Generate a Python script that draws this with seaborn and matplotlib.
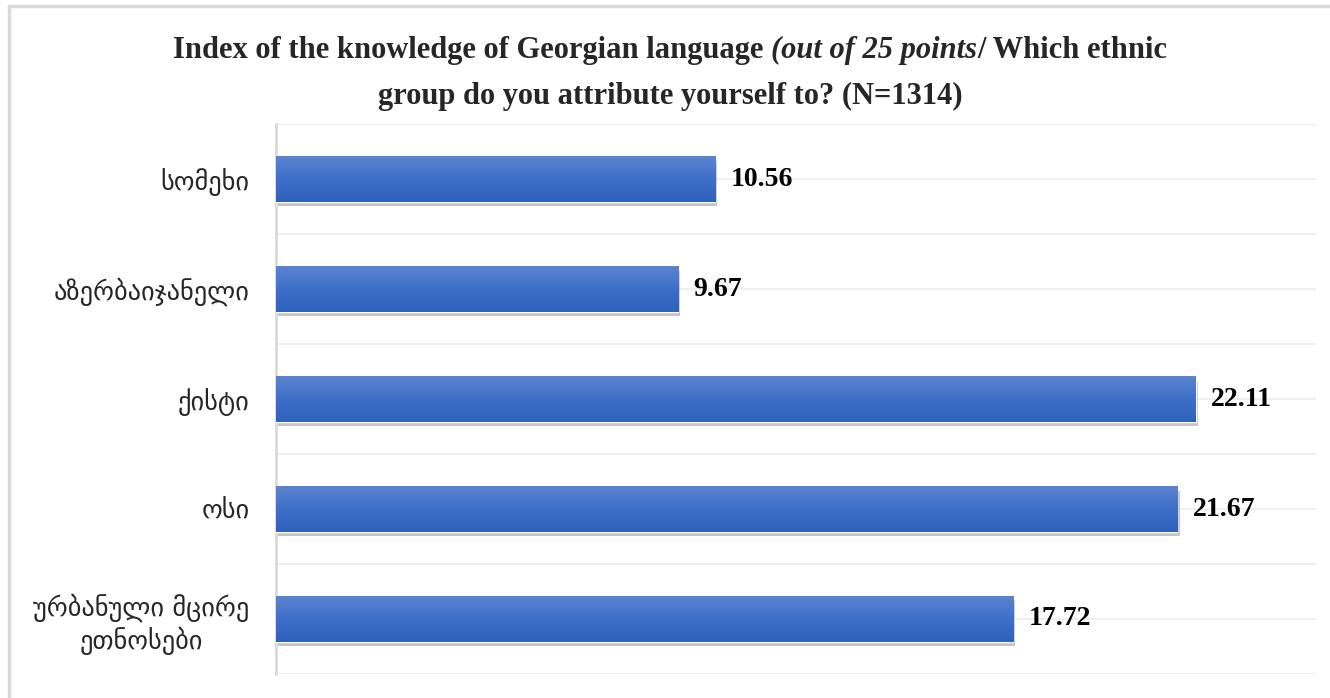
import numpy as np
import pandas as pd
import matplotlib
matplotlib.use('Agg')
import matplotlib.pyplot as plt
import matplotlib.patheffects as pe
from matplotlib.lines import Line2D
from matplotlib.colors import LinearSegmentedColormap
import seaborn as sns

# data
groups = ['სომეხი', 'აზერბაიჯანელი', 'ქისტი', 'ოსი', 'ურბანული მცირე\nეთნოსები']
scores = [10.56, 9.67, 22.11, 21.67, 17.72]
title_parts = [('Index of the knowledge of Georgian language ', 'normal'),
               ('(out of 25 points', 'italic'),
               ('/ Which ethnic', 'normal')]
title_line2 = 'group do you attribute yourself to? (N=1314)'

df = pd.DataFrame({'group': groups, 'score': scores})

sns.set_theme(style='white')
plt.rcParams['font.family'] = ['DejaVu Sans']

fig = plt.figure(figsize=(13.3, 6.98), dpi=100)
ax = fig.add_axes([0.2075, 0.0344, 0.782, 0.7879])

sns.barplot(data=df, x='score', y='group', ax=ax, color='#3d6ec8',
            width=0.41, saturation=1, zorder=3)

ax.set_xlim(0, 25)
ax.set_ylim(4.5, -0.5)

# gradient fill (light on top, darker below) + soft shadow
grad = LinearSegmentedColormap.from_list('g', ['#5c85d0', '#3e6fc9', '#2f62bc'])
for bar in ax.patches:
    x0, y0 = bar.get_x(), bar.get_y()
    w, h = bar.get_width(), bar.get_height()
    bar.set_path_effects([pe.SimplePatchShadow(offset=(1.5, -3), shadow_rgbFace='#6f6f6f', alpha=0.4),
                          pe.Normal()])
    img = ax.imshow(np.linspace(0, 1, 100).reshape(-1, 1), cmap=grad, aspect='auto',
                    extent=(x0, x0 + w, y0 + h, y0), origin='upper', zorder=4)
    img.set_clip_path(bar)
ax.set_xlim(0, 25)
ax.set_ylim(4.5, -0.5)

# value labels
for i, v in enumerate(scores):
    ax.annotate(f'{v:.2f}', (v, i), xytext=(11, 0), textcoords='offset points',
                va='center', ha='left', fontsize=20, family='Liberation Serif',
                weight='bold', color='black')

# grid lines every half category
ax.set_yticks(np.arange(-0.5, 5, 0.5), minor=True)
ax.grid(axis='y', which='both', color='#efefef', lw=1.5, zorder=0)
ax.grid(axis='x', visible=False)
ax.tick_params(axis='y', which='both', length=0, pad=19, labelsize=19)
ax.tick_params(axis='x', which='both', length=0, labelbottom=False)
ax.set_xlabel('')
ax.set_ylabel('')
for s in ['top', 'right', 'bottom']:
    ax.spines[s].set_visible(False)
ax.spines['left'].set_color('#d9d9d9')
ax.spines['left'].set_linewidth(2)
for lab in ax.get_yticklabels():
    lab.set_multialignment('center')

# title with italic part, centred manually
fig.canvas.draw()
r = fig.canvas.get_renderer()
W, H = fig.bbox.width, fig.bbox.height
pieces = []
for txt, st in title_parts:
    t = fig.text(0, 0, txt, fontsize=22, family='Liberation Serif', style=st,
                 weight='bold', ha='left', va='baseline')
    pieces.append(t)
widths = [t.get_window_extent(r).width for t in pieces]
x = 670 - sum(widths) / 2
for t, wd in zip(pieces, widths):
    t.set_position((x / W, (H - 58) / H))
    x += wd
fig.text(670 / W, (H - 104) / H, title_line2, fontsize=22, family='Liberation Serif',
         weight='bold', ha='center', va='baseline')

# outer frame
fig.add_artist(Line2D([9 / W, 1], [(H - 6) / H] * 2, color='#d9d9d9', lw=2.5))
fig.add_artist(Line2D([9 / W] * 2, [0, (H - 6) / H], color='#d9d9d9', lw=2.5))

fig.savefig('out.png', dpi=100)
